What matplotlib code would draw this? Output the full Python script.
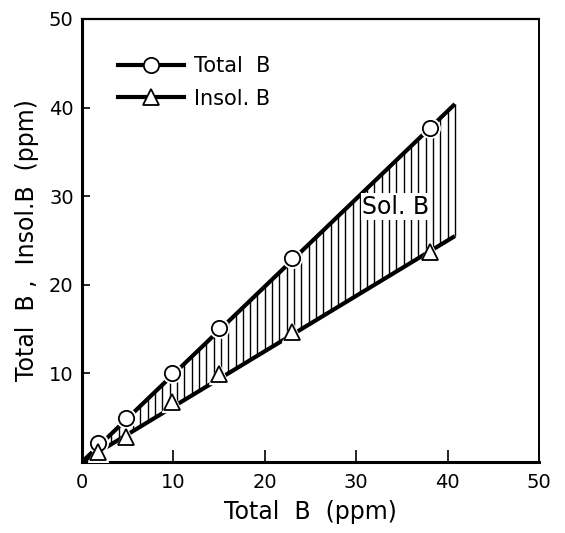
import numpy as np
import matplotlib
matplotlib.use("Agg")
import matplotlib.pyplot as plt
from matplotlib.lines import Line2D

# Data
total_x = [1.8, 4.8, 9.9, 15.0, 23.0, 38.1]
total_y = [2.1, 5.0, 10.1, 15.1, 23.0, 37.7]
insol_y = [1.1, 2.8, 6.8, 9.9, 14.7, 23.7]
fit_x = [0.0, 40.8]
fit_total = [0.0, 40.4]
fit_insol = [0.0, 25.5]
xticks = [0, 10, 20, 30, 40, 50]
yticks = [10, 20, 30, 40, 50]

plt.rcParams['font.family'] = ['DejaVu Sans']
fig = plt.figure(figsize=(5.65, 5.33), dpi=100)
ax = fig.add_axes([0.1451, 0.1332, 0.954 - 0.1451, 0.9644 - 0.1332])
ax.set_xlim(0, 50)
ax.set_ylim(0, 50)

# hatched region (vertical lines between the two fitted lines)
st = (fit_total[1] - fit_total[0]) / (fit_x[1] - fit_x[0])
si = (fit_insol[1] - fit_insol[0]) / (fit_x[1] - fit_x[0])
hx = np.arange(0.8, fit_x[1], 0.8)
ax.vlines(hx, si * hx, st * hx, colors='black', linewidth=1.0, zorder=1)
ax.vlines([fit_x[1]], fit_insol[1], fit_total[1], colors='black', linewidth=1.0, zorder=1)

ax.plot(fit_x, fit_total, color='black', linewidth=3.0, solid_capstyle='butt', zorder=2)
ax.plot(fit_x, fit_insol, color='black', linewidth=3.0, solid_capstyle='butt', zorder=2)

# white halos around markers
ax.plot(total_x, total_y, linestyle='none', marker='o', markersize=14, color='white', zorder=3)
ax.plot(total_x, insol_y, linestyle='none', marker='^', markersize=14, color='white', zorder=3)
ax.plot(total_x, total_y, linestyle='none', marker='o', markersize=11, markerfacecolor='white',
        markeredgecolor='black', markeredgewidth=1.3, zorder=4)
ax.plot(total_x, insol_y, linestyle='none', marker='^', markersize=11, markerfacecolor='white',
        markeredgecolor='black', markeredgewidth=1.3, zorder=4)

ax.text(34.3, 28.8, 'Sol. B', fontsize=17, ha='center', va='center', zorder=5,
        bbox=dict(facecolor='white', edgecolor='none', pad=1))

h1 = Line2D([], [], color='black', linewidth=3.0, marker='o', markersize=11,
            markerfacecolor='white', markeredgecolor='black', markeredgewidth=1.3)
h2 = Line2D([], [], color='black', linewidth=3.0, marker='^', markersize=11,
            markerfacecolor='white', markeredgecolor='black', markeredgewidth=1.3)
ax.legend([h1, h2], ['Total  B', 'Insol. B'], loc='upper left', bbox_to_anchor=(0.06, 0.935),
          frameon=False, fontsize=15, handlelength=3.2, handletextpad=0.45, labelspacing=0.6,
          borderaxespad=0)

ax.set_xticks(xticks)
ax.set_yticks(yticks)
ax.tick_params(axis='x', direction='in', length=9, width=1.2, labelsize=14, pad=8)
ax.tick_params(axis='y', direction='in', length=6, width=1.2, labelsize=14, pad=6)
ax.spines['left'].set_linewidth(2.2)
ax.spines['bottom'].set_linewidth(2.2)
ax.spines['top'].set_linewidth(1.6)
ax.spines['right'].set_linewidth(1.4)

ax.set_xlabel('Total  B  (ppm)', fontsize=17, labelpad=6)
ax.set_ylabel('Total  B ,  Insol.B  (ppm)', fontsize=17, labelpad=7)

fig.savefig('out.png', dpi=100)
